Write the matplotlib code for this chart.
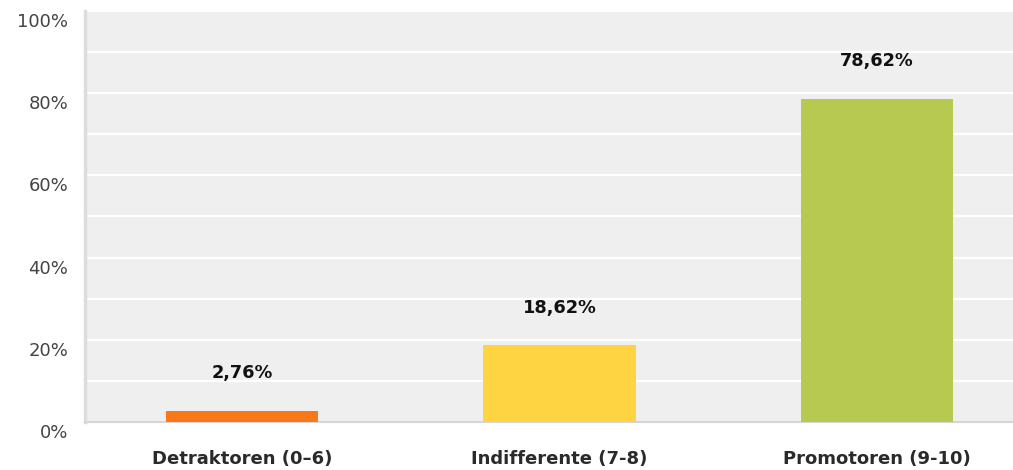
import matplotlib
matplotlib.use("Agg")
import matplotlib.pyplot as plt
import matplotlib.transforms as mtransforms

categories = ["Detraktoren (0–6)", "Indifferente (7-8)", "Promotoren (9-10)"]
values = [2.76, 18.62, 78.62]
value_labels = ["2,76%", "18,62%", "78,62%"]
colors = ["#F97817", "#FFD443", "#B8C951"]
yticks = [0, 20, 40, 60, 80, 100]

plt.rcParams['font.family'] = ['DejaVu Sans']

W, H = 1013, 470
fig = plt.figure(figsize=(W / 100, H / 100), dpi=100)
L, R, T, B = 85, 1013, 11, 422
ax = fig.add_axes([L / W, (H - B) / H, (R - L) / W, (B - T) / H])
ax.set_facecolor("#EFEFEF")

x = list(range(len(categories)))
ax.bar(x, values, width=0.48, color=colors, zorder=3)
ax.set_xlim(-0.494, 2.428)
ax.set_ylim(0, 100)

ax.grid(axis='y', color='white', linewidth=1.6, zorder=1)
ax.set_axisbelow(True)
ax.set_yticks(list(range(0, 101, 10)))
ax.set_yticklabels([f"{v}%" if v in yticks else "" for v in range(0, 101, 10)])
ax.tick_params(axis='y', length=0, pad=12, labelsize=13, labelcolor='#444444')
offset = mtransforms.ScaledTranslation(0, -9 / 100, fig.dpi_scale_trans)
for lab in ax.get_yticklabels():
    lab.set_transform(lab.get_transform() + offset)

ax.set_xticks(x)
ax.set_xticklabels(categories, fontweight='bold', color='#2A2A2A')
ax.tick_params(axis='x', length=0, pad=20, labelsize=13)

for s in ['top', 'right']:
    ax.spines[s].set_visible(False)
ax.spines['left'].set_color('#DDDDDD')
ax.spines['left'].set_linewidth(2.5)
ax.spines['bottom'].set_color('#D6D6D6')
ax.spines['bottom'].set_linewidth(1.5)

for xi, v, t in zip(x, values, value_labels):
    ax.annotate(t, (xi, v), xytext=(0, 27), textcoords='offset points',
                ha='center', va='center', fontsize=12.8, fontweight='bold',
                color='#111111', zorder=5)

fig.savefig("out.png", dpi=100)
